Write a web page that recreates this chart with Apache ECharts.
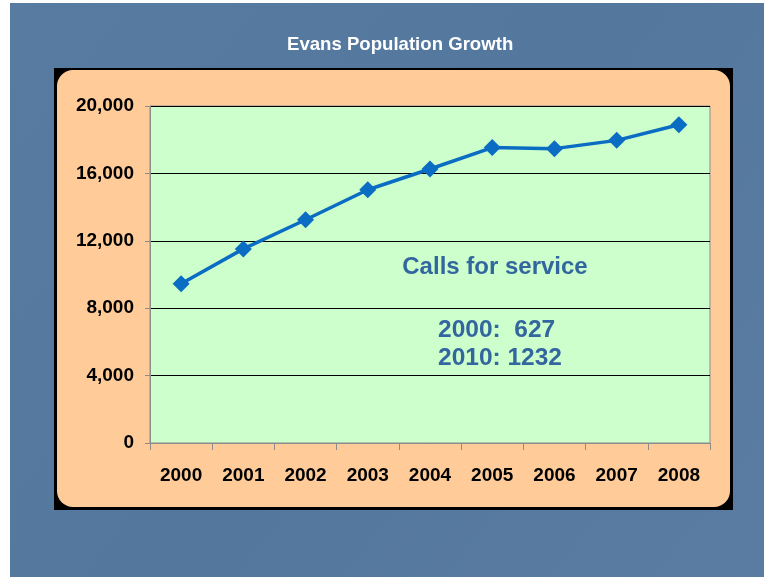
<!DOCTYPE html>
<html>
<head>
<meta charset="utf-8">
<title>Evans Population Growth</title>
<script src="https://cdn.jsdelivr.net/npm/echarts@6/dist/echarts.min.js"></script>
<style>
  html, body { margin: 0; padding: 0; background: #ffffff; }
  #chart { width: 764px; height: 577px; }
</style>
</head>
<body>
<div id="chart"></div>
<script>
// Population of Evans by year
const years = ['2000', '2001', '2002', '2003', '2004', '2005', '2006', '2007', '2008'];
const population = [9450, 11520, 13250, 15030, 16260, 17530, 17470, 17960, 18890];

// Annotation text
const noteTitle = 'Calls for service';
const noteLines = ['2000:  627', '2010: 1232'];

const FONT = '"Liberation Sans", Arial, sans-serif';
const NOTE_COLOR = '#33669f';

const chart = echarts.init(document.getElementById('chart'), null, { renderer: 'canvas' });

chart.setOption({
  animation: false,
  title: {
    text: 'Evans Population Growth',
    left: 287,
    top: 35,
    padding: 0,
    textStyle: { color: '#ffffff', fontFamily: FONT, fontWeight: 'bold', fontSize: 18.6 }
  },
  graphic: [
    // slide background
    { type: 'rect', z: -20, shape: { x: 10, y: 3, width: 754, height: 574 },
      style: { fill: new echarts.graphic.LinearGradient(0, 0, 1, 1, [
        { offset: 0, color: '#587ba2' },
        { offset: 0.5, color: '#54779e' },
        { offset: 1, color: '#5a7ca2' }
      ]) } },
    // chart frame
    { type: 'rect', z: -19, shape: { x: 54, y: 68, width: 679, height: 442 },
      style: { fill: '#000000' } },
    { type: 'rect', z: -18, shape: { x: 57, y: 70, width: 673, height: 437, r: 16 },
      style: { fill: '#FFCC99' } },
    // annotation
    { type: 'text', z: 100, x: 495, y: 267,
      style: { text: noteTitle, fill: NOTE_COLOR, font: 'bold 24px ' + FONT,
               textAlign: 'center', textVerticalAlign: 'middle' } },
    { type: 'text', z: 100, x: 438, y: 330,
      style: { text: noteLines[0], fill: NOTE_COLOR, font: 'bold 24.5px ' + FONT,
               textAlign: 'left', textVerticalAlign: 'middle' } },
    { type: 'text', z: 100, x: 438, y: 358,
      style: { text: noteLines[1], fill: NOTE_COLOR, font: 'bold 24.5px ' + FONT,
               textAlign: 'left', textVerticalAlign: 'middle' } }
  ],
  grid: {
    left: 150, right: 54, top: 106, bottom: 134,
    show: true,
    backgroundColor: '#CCFFCC',
    borderColor: '#8c8c8c',
    borderWidth: 1
  },
  xAxis: {
    type: 'category',
    data: years,
    z: 3,
    axisLine: { lineStyle: { color: '#8c8c8c', width: 1 } },
    axisTick: { show: true, length: 7, lineStyle: { color: '#8c8c8c' } },
    axisLabel: { color: '#000000', fontFamily: FONT, fontWeight: 'bold', fontSize: 19, margin: 23 },
    splitLine: { show: false }
  },
  yAxis: {
    type: 'value',
    min: 0,
    max: 20000,
    interval: 4000,
    axisLine: { show: true, lineStyle: { color: '#8c8c8c', width: 1 } },
    axisTick: { show: true, length: 5, lineStyle: { color: '#8c8c8c' } },
    axisLabel: {
      color: '#000000', fontFamily: FONT, fontWeight: 'bold', fontSize: 19, margin: 16,
      formatter: v => v.toLocaleString('en-US')
    },
    splitLine: { show: true, lineStyle: { color: '#000000', width: 1 } }
  },
  series: [{
    type: 'line',
    data: population,
    symbol: 'diamond',
    symbolSize: 17,
    itemStyle: { color: '#0a6cc2' },
    lineStyle: { color: '#0a6cc2', width: 3.5 },
    z: 5
  }]
});
</script>
</body>
</html>
